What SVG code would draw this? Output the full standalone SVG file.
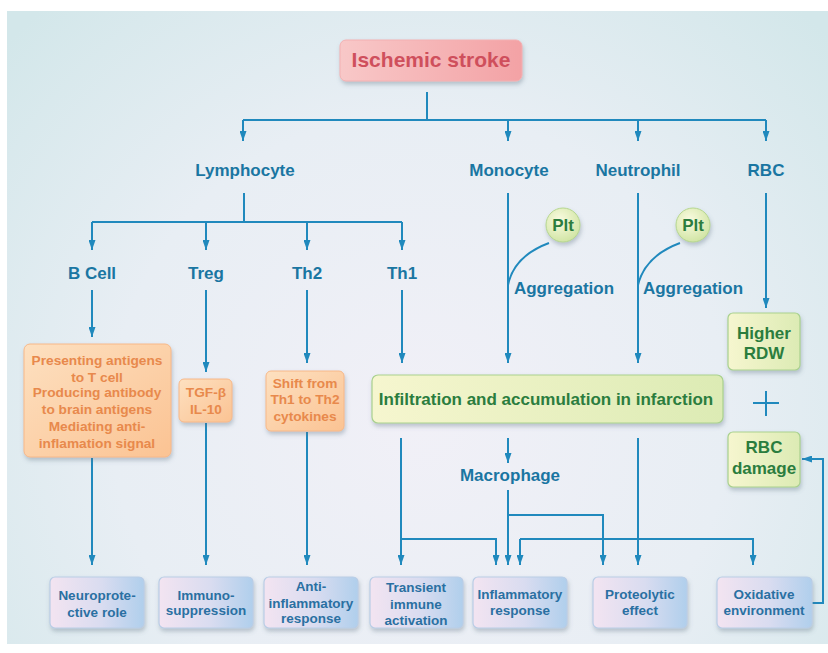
<svg xmlns="http://www.w3.org/2000/svg" width="828" height="653" viewBox="0 0 828 653">
<defs>
<radialGradient id="bg" cx="420" cy="420" r="560" gradientUnits="userSpaceOnUse">
<stop offset="0" stop-color="#f1f0f7"/>
<stop offset="0.55" stop-color="#e8eef4"/>
<stop offset="1" stop-color="#d3e7ea"/>
</radialGradient>
<linearGradient id="gPink" x1="0" y1="0" x2="1" y2="0">
<stop offset="0" stop-color="#f8c8c8"/>
<stop offset="1" stop-color="#f3a2a5"/>
</linearGradient>
<linearGradient id="gOrange" x1="0" y1="0" x2="1" y2="1">
<stop offset="0" stop-color="#fde0c0"/>
<stop offset="1" stop-color="#fbc393"/>
</linearGradient>
<linearGradient id="gGreen" x1="0" y1="0" x2="1" y2="0">
<stop offset="0" stop-color="#f6f6cf"/>
<stop offset="1" stop-color="#dcebb4"/>
</linearGradient>
<linearGradient id="gBlue" x1="0" y1="0" x2="1" y2="0">
<stop offset="0" stop-color="#f3e4f1"/>
<stop offset="0.55" stop-color="#d9dcf0"/>
<stop offset="1" stop-color="#b0cfec"/>
</linearGradient>
<radialGradient id="gPlt" cx="0.4" cy="0.35" r="0.7">
<stop offset="0" stop-color="#fafbe0"/>
<stop offset="1" stop-color="#cfe4a2"/>
</radialGradient>
<filter id="sh" x="-20%" y="-20%" width="140%" height="150%">
<feDropShadow dx="1" dy="3" stdDeviation="2" flood-color="#5a7080" flood-opacity="0.35"/>
</filter>
<marker id="ah" viewBox="0 0 10 7" refX="10" refY="3.5" markerWidth="10" markerHeight="7" markerUnits="userSpaceOnUse" orient="auto">
<path d="M0,0 L10,3.5 L0,7 z" fill="#2089bd"/>
</marker>
<style>
.ln{fill:none;stroke:#2089bd;stroke-width:2}
.ar{marker-end:url(#ah)}
.lbl{font-family:"Liberation Sans",Arial,sans-serif;font-weight:bold;font-size:17px;fill:#1a76a2;text-anchor:middle}
.pink{fill:url(#gPink);stroke:#f3b0b2;stroke-width:1}
.pinkT{font-family:"Liberation Sans",Arial,sans-serif;font-weight:bold;font-size:21px;fill:#cf4f5c;text-anchor:middle}
.org{fill:url(#gOrange);stroke:#f7b888;stroke-width:1}
.orgT{font-family:"Liberation Sans",Arial,sans-serif;font-weight:bold;font-size:13.7px;fill:#e8894c;text-anchor:middle}
.grn{fill:url(#gGreen);stroke:#a9d18e;stroke-width:1.2}
.grnT{font-family:"Liberation Sans",Arial,sans-serif;font-weight:bold;font-size:17px;fill:#2b7d3e;text-anchor:middle}
.blu{fill:url(#gBlue);stroke:#b9cde6;stroke-width:1.2}
.bluT{font-family:"Liberation Sans",Arial,sans-serif;font-weight:bold;font-size:13.5px;fill:#2a70a2;text-anchor:middle}
</style>
</defs>
<rect x="0" y="0" width="828" height="653" fill="#ffffff"/>
<rect x="7" y="11" width="821" height="633" fill="url(#bg)"/>

<g id="connectors">
<path class="ln" d="M427,92 V120 M243,120 H766"/>
<path class="ln ar" d="M243,120 V141"/>
<path class="ln ar" d="M508,120 V141"/>
<path class="ln ar" d="M638,120 V141"/>
<path class="ln ar" d="M766,120 V141"/>
<path class="ln" d="M244,193 V222 M92,222 H402"/>
<path class="ln ar" d="M92,222 V250"/>
<path class="ln ar" d="M206,222 V250"/>
<path class="ln ar" d="M307,222 V250"/>
<path class="ln ar" d="M402,222 V250"/>
<path class="ln ar" d="M92,290 V337"/>
<path class="ln ar" d="M206,290 V372"/>
<path class="ln ar" d="M307,290 V363"/>
<path class="ln ar" d="M402,290 V363"/>
<path class="ln ar" d="M508,193 V363"/>
<path class="ln ar" d="M638,193 V363"/>
<path class="ln ar" d="M766,193 V308"/>
<path class="ln" d="M549,243 Q514,256 508,285"/>
<path class="ln" d="M680,243 Q645,256 638,285"/>
<path class="ln" d="M753,403 H779 M766,391 V416"/>
<path class="ln ar" d="M92,458 V565"/>
<path class="ln ar" d="M206,423 V565"/>
<path class="ln ar" d="M307,432 V565"/>
<path class="ln ar" d="M401,438 V565"/>
<path class="ln ar" d="M401,539 H496 V565"/>
<path class="ln ar" d="M508,438 V463"/>
<path class="ln ar" d="M508,490 V565"/>
<path class="ln ar" d="M508,515 H603 V565"/>
<path class="ln ar" d="M638,438 V565"/>
<path class="ln ar" d="M520,539 V565"/>
<path class="ln ar" d="M520,539 H753 V565"/>
<path class="ln ar" d="M812,603 H823 V459 H802"/>
</g>

<g id="ischemic-stroke">
<rect class="pink" x="340" y="40" width="182" height="41" rx="6" filter="url(#sh)"/>
<text class="pinkT" x="431" y="67">Ischemic stroke</text>
</g>

<g id="lymphocyte"><text class="lbl" x="245" y="176">Lymphocyte</text></g>
<g id="monocyte"><text class="lbl" x="509" y="176">Monocyte</text></g>
<g id="neutrophil"><text class="lbl" x="638" y="176">Neutrophil</text></g>
<g id="rbc"><text class="lbl" x="766" y="176">RBC</text></g>

<g id="bcell"><text class="lbl" x="92" y="279">B Cell</text></g>
<g id="treg"><text class="lbl" x="206" y="279">Treg</text></g>
<g id="th2"><text class="lbl" x="307" y="279">Th2</text></g>
<g id="th1"><text class="lbl" x="402" y="279">Th1</text></g>

<g id="bcell-box">
<rect class="org" x="24" y="344" width="147" height="113" rx="6" filter="url(#sh)"/>
<text class="orgT" x="97" y="365">Presenting antigens</text>
<text class="orgT" x="97" y="382">to T cell</text>
<text class="orgT" x="97" y="397">Producing antibody</text>
<text class="orgT" x="97" y="414">to brain antigens</text>
<text class="orgT" x="97" y="431">Mediating anti-</text>
<text class="orgT" x="97" y="448">inflamation signal</text>
</g>

<g id="treg-box">
<rect class="org" x="179" y="379" width="53" height="43" rx="5" filter="url(#sh)"/>
<text class="orgT" x="206" y="397">TGF-β</text>
<text class="orgT" x="206" y="414">IL-10</text>
</g>

<g id="th2-box">
<rect class="org" x="266" y="371" width="78" height="60" rx="5" filter="url(#sh)"/>
<text class="orgT" x="305" y="388">Shift from</text>
<text class="orgT" x="305" y="404">Th1 to Th2</text>
<text class="orgT" x="305" y="421">cytokines</text>
</g>

<g id="infiltration">
<rect class="grn" x="372" y="375" width="351" height="48" rx="6" filter="url(#sh)"/>
<text class="grnT" x="546" y="405">Infiltration and accumulation in infarction</text>
</g>

<g id="plt1">
<circle cx="563" cy="225" r="17" fill="url(#gPlt)" stroke="#b5d68f" stroke-width="1" filter="url(#sh)"/>
<text class="grnT" x="563" y="231">Plt</text>
</g>
<g id="plt2">
<circle cx="693" cy="225" r="17" fill="url(#gPlt)" stroke="#b5d68f" stroke-width="1" filter="url(#sh)"/>
<text class="grnT" x="693" y="231">Plt</text>
</g>
<g id="aggregation1"><text class="lbl" x="564" y="294">Aggregation</text></g>
<g id="aggregation2"><text class="lbl" x="693" y="294">Aggregation</text></g>

<g id="higher-rdw">
<rect class="grn" x="728" y="313" width="72" height="57" rx="5" filter="url(#sh)"/>
<text class="grnT" x="764" y="339">Higher</text>
<text class="grnT" x="764" y="359">RDW</text>
</g>

<g id="rbc-damage">
<rect class="grn" x="728" y="432" width="72" height="55" rx="5" filter="url(#sh)"/>
<text class="grnT" x="764" y="453">RBC</text>
<text class="grnT" x="764" y="474">damage</text>
</g>

<g id="macrophage"><text class="lbl" x="510" y="481">Macrophage</text></g>

<g id="neuroprotective">
<rect class="blu" x="50" y="577" width="94" height="51" rx="5" filter="url(#sh)"/>
<text class="bluT" x="97" y="600">Neuroprote-</text>
<text class="bluT" x="97" y="617">ctive role</text>
</g>
<g id="immunosuppression">
<rect class="blu" x="159" y="577" width="94" height="51" rx="5" filter="url(#sh)"/>
<text class="bluT" x="206" y="600">Immuno-</text>
<text class="bluT" x="206" y="615">suppression</text>
</g>
<g id="anti-inflammatory">
<rect class="blu" x="264" y="577" width="94" height="51" rx="5" filter="url(#sh)"/>
<text class="bluT" x="311" y="591">Anti-</text>
<text class="bluT" x="311" y="608">inflammatory</text>
<text class="bluT" x="311" y="623">response</text>
</g>
<g id="transient">
<rect class="blu" x="370" y="577" width="93" height="51" rx="5" filter="url(#sh)"/>
<text class="bluT" x="416" y="592">Transient</text>
<text class="bluT" x="416" y="609">immune</text>
<text class="bluT" x="416" y="625">activation</text>
</g>
<g id="inflammatory">
<rect class="blu" x="473" y="577" width="94" height="51" rx="5" filter="url(#sh)"/>
<text class="bluT" x="520" y="599">Inflammatory</text>
<text class="bluT" x="520" y="615">response</text>
</g>
<g id="proteolytic">
<rect class="blu" x="593" y="577" width="94" height="51" rx="5" filter="url(#sh)"/>
<text class="bluT" x="640" y="599">Proteolytic</text>
<text class="bluT" x="640" y="615">effect</text>
</g>
<g id="oxidative">
<rect class="blu" x="717" y="577" width="95" height="51" rx="5" filter="url(#sh)"/>
<text class="bluT" x="764" y="599">Oxidative</text>
<text class="bluT" x="764" y="615">environment</text>
</g>
</svg>
